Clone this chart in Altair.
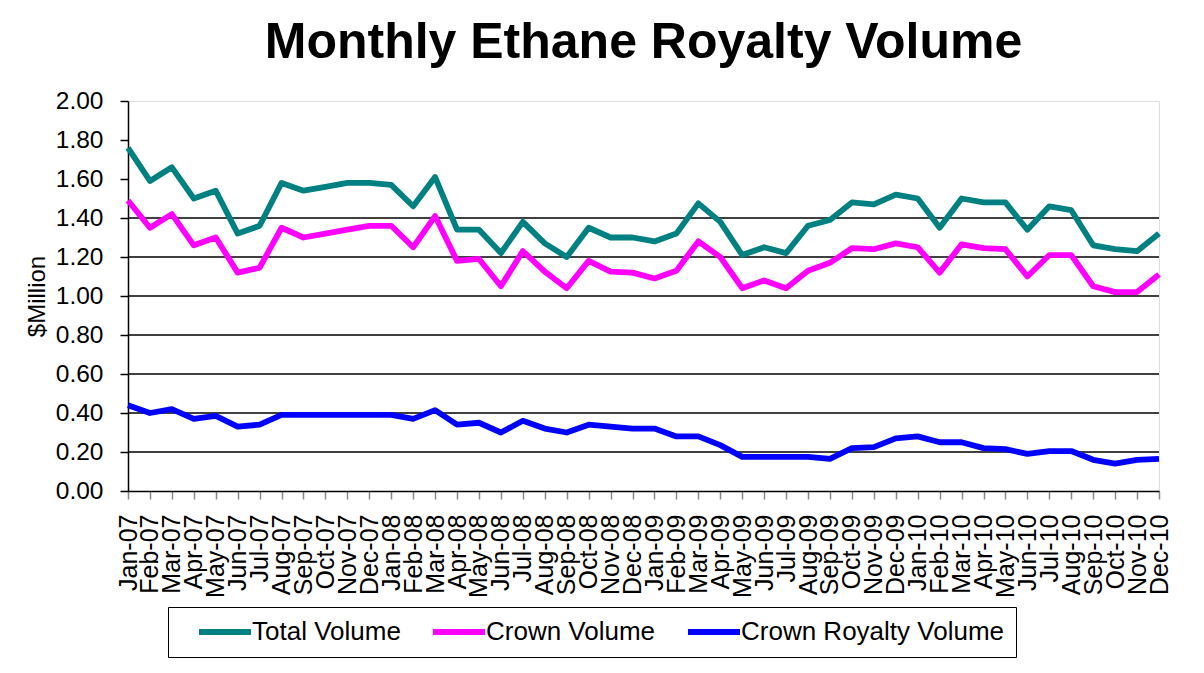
import altair as alt
import pandas as pd

months = [
    "Jan-07", "Feb-07", "Mar-07", "Apr-07", "May-07", "Jun-07", "Jul-07", "Aug-07", "Sep-07", "Oct-07", "Nov-07", "Dec-07",
    "Jan-08", "Feb-08", "Mar-08", "Apr-08", "May-08", "Jun-08", "Jul-08", "Aug-08", "Sep-08", "Oct-08", "Nov-08", "Dec-08",
    "Jan-09", "Feb-09", "Mar-09", "Apr-09", "May-09", "Jun-09", "Jul-09", "Aug-09", "Sep-09", "Oct-09", "Nov-09", "Dec-09",
    "Jan-10", "Feb-10", "Mar-10", "Apr-10", "May-10", "Jun-10", "Jul-10", "Aug-10", "Sep-10", "Oct-10", "Nov-10", "Dec-10",
]

total_volume = [
    1.76, 1.59, 1.66, 1.50, 1.54, 1.32, 1.36, 1.58, 1.54, 1.56, 1.58, 1.58,
    1.57, 1.46, 1.61, 1.34, 1.34, 1.22, 1.38, 1.27, 1.20, 1.35, 1.30, 1.30,
    1.28, 1.32, 1.475, 1.38, 1.21, 1.25, 1.22, 1.36, 1.39, 1.48, 1.47, 1.52,
    1.50, 1.35, 1.50, 1.48, 1.48, 1.34, 1.46, 1.44, 1.26, 1.24, 1.23, 1.32,
]

crown_volume = [
    1.49, 1.35, 1.42, 1.26, 1.30, 1.12, 1.145, 1.35, 1.30, 1.32, 1.34, 1.36,
    1.36, 1.25, 1.41, 1.18, 1.19, 1.05, 1.23, 1.125, 1.04, 1.18, 1.125, 1.12,
    1.09, 1.13, 1.28, 1.20, 1.04, 1.08, 1.04, 1.13, 1.17, 1.245, 1.24, 1.27,
    1.25, 1.12, 1.265, 1.245, 1.24, 1.10, 1.21, 1.21, 1.05, 1.02, 1.02, 1.11,
]

crown_royalty_volume = [
    0.44, 0.40, 0.42, 0.37, 0.385, 0.33, 0.34, 0.39, 0.39, 0.39, 0.39, 0.39,
    0.39, 0.37, 0.415, 0.34, 0.35, 0.30, 0.36, 0.32, 0.30, 0.34, 0.33, 0.32,
    0.32, 0.28, 0.28, 0.235, 0.175, 0.175, 0.175, 0.175, 0.165, 0.22, 0.225, 0.27,
    0.28, 0.25, 0.25, 0.22, 0.215, 0.19, 0.205, 0.205, 0.16, 0.14, 0.16, 0.165,
]

series_names = ["Total Volume", "Crown Volume", "Crown Royalty Volume"]
series_colors = ["#008080", "#FF00FF", "#0000FF"]
y_ticks = [0.0, 0.2, 0.4, 0.6, 0.8, 1.0, 1.2, 1.4, 1.6, 1.8, 2.0]
grid_values = [0.2, 0.4, 0.6, 0.8, 1.0, 1.2, 1.4]

rows = []
for name, vals in zip(series_names, [total_volume, crown_volume, crown_royalty_volume]):
    for m, v in zip(months, vals):
        rows.append({"month": m, "value": v, "series": name})
df = pd.DataFrame(rows)
grid_df = pd.DataFrame({"value": grid_values})

FONT = "Liberation Sans"

x_enc = alt.X(
    "month:O",
    sort=months,
    scale=alt.Scale(type="point", padding=0),
    axis=alt.Axis(
        title=None, labelAngle=-90, labelFont=FONT, labelFontSize=25, labelColor="black",
        tickColor="#888888", tickSize=8, tickWidth=1.5, domainColor="black", domainWidth=1.5,
        labelPadding=15, labelOverlap=False,
    ),
)

y_axis = alt.Axis(
    title="$Million", values=y_ticks, format=".2f", grid=False, labelOverlap=False,
    labelFont=FONT, labelFontSize=24.5, labelColor="black", labelPadding=17,
    tickColor="black", tickSize=8, tickWidth=1.5, domainColor="black", domainWidth=1.5,
    titleFont=FONT, titleFontSize=24, titleFontWeight="normal", titleColor="black", titlePadding=6,
)
y_scale = alt.Scale(domain=[0, 2], nice=False)

grid = alt.Chart(grid_df).mark_rule(color="black", strokeWidth=1.6).encode(
    y=alt.Y("value:Q", scale=y_scale, axis=y_axis)
)

lines = alt.Chart(df).mark_line(strokeWidth=5.8, strokeJoin="round").encode(
    x=x_enc,
    y=alt.Y("value:Q", scale=y_scale, axis=y_axis),
    color=alt.Color(
        "series:N",
        sort=series_names,
        scale=alt.Scale(domain=series_names, range=series_colors),
        legend=alt.Legend(
            title=None, orient="none", legendX=40, legendY=506, direction="horizontal",
            symbolType="M-2.6,0H2.6", symbolStrokeWidth=6, symbolSize=400, symbolOffset=32,
            labelFont=FONT, labelFontSize=26, labelColor="black", labelLimit=400,
            labelOffset=14, columnPadding=13, padding=12,
            strokeColor="black", fillColor="white",
        ),
    ),
    order=alt.Order("series:N"),
)

chart = alt.layer(grid, lines).properties(
    width=1031,
    height=390,
    title=alt.TitleParams(
        "Monthly Ethane Royalty Volume", font=FONT, fontSize=50, fontWeight="bold",
        color="black", anchor="middle", frame="group", offset=0, baseline="bottom", dy=30,
    ),
    padding={"left": 120, "top": 93, "right": 37, "bottom": 174},
    autosize=alt.AutoSizeParams(type="none"),
).configure_view(
    stroke="#999999", strokeWidth=1.5
).configure_axis(
    labelOverlap=False
).configure(background="white")

chart.save("out.html", embed_options={"renderer": "svg", "actions": False})
